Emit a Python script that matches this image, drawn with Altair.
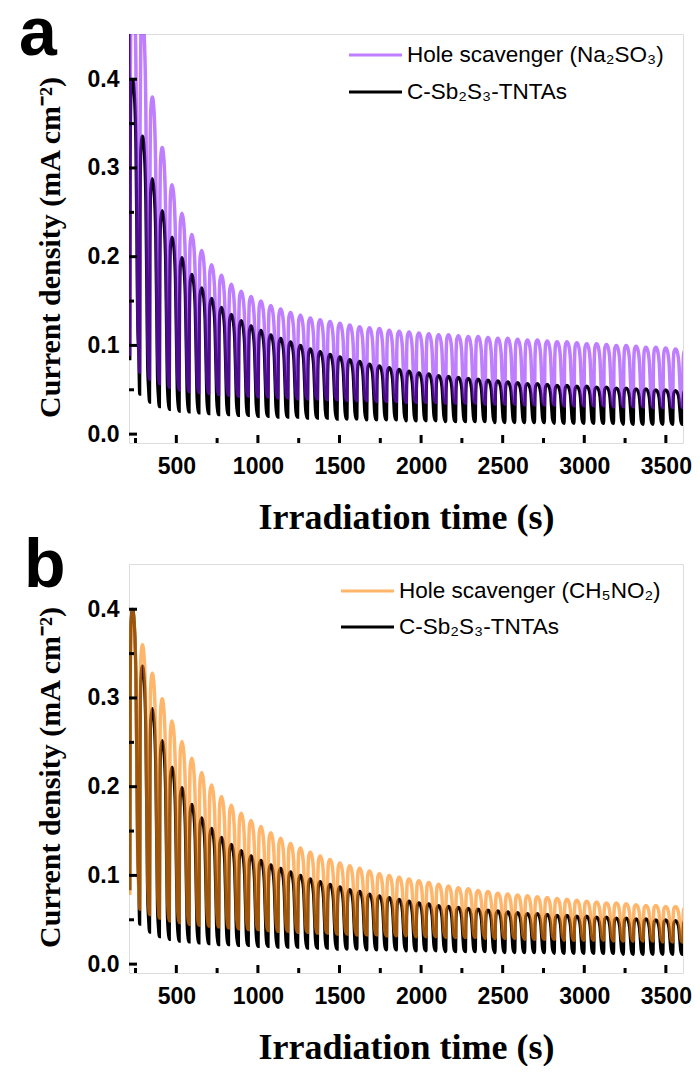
import altair as alt
import pandas as pd

# ---------------- data ----------------
PERIOD = 60.5          # s, light on/off cycle
T0 = 215               # s, start of first cycle
T_START = 209          # s, first recorded point (initial spike)

# C-Sb2S3-TNTAs (black) – per-cycle peak and low current (mA cm-2)
BLACK_PEAKS = [0.400, 0.336, 0.288, 0.252, 0.222, 0.199, 0.180, 0.165, 0.153, 0.143,
               0.135, 0.128, 0.122, 0.117, 0.112, 0.108, 0.104, 0.100, 0.096, 0.093,
               0.090, 0.087, 0.084, 0.082, 0.079, 0.077, 0.075, 0.073, 0.071, 0.069,
               0.068, 0.066, 0.065, 0.064, 0.063, 0.062, 0.061, 0.060, 0.059, 0.058,
               0.057, 0.057, 0.056, 0.055, 0.055, 0.054, 0.054, 0.053, 0.053, 0.052,
               0.052, 0.051, 0.051, 0.050, 0.050, 0.049, 0.049]
BLACK_LOWS = [0.085, 0.045, 0.036, 0.031, 0.028, 0.026, 0.025, 0.024, 0.023, 0.022,
              0.022, 0.021, 0.021, 0.020, 0.020, 0.019, 0.019, 0.019, 0.018, 0.018,
              0.018, 0.017, 0.017, 0.017, 0.016, 0.016, 0.016, 0.016, 0.015, 0.015,
              0.015, 0.015, 0.014, 0.014, 0.014, 0.014, 0.014, 0.013, 0.013, 0.013,
              0.013, 0.013, 0.013, 0.012, 0.012, 0.012, 0.012, 0.012, 0.012, 0.012,
              0.011, 0.011, 0.011, 0.011, 0.011, 0.011, 0.011]
BLACK_START_A = 0.46
BLACK_START_B = 0.20

# Hole scavenger (Na2SO3) – purple
PURPLE_PEAKS = [0.520, 0.470, 0.380, 0.323, 0.281, 0.249, 0.225, 0.207, 0.191, 0.179,
                0.169, 0.161, 0.155, 0.150, 0.145, 0.141, 0.137, 0.134, 0.131, 0.129,
                0.127, 0.125, 0.123, 0.121, 0.120, 0.119, 0.117, 0.116, 0.115, 0.114,
                0.113, 0.112, 0.112, 0.111, 0.110, 0.110, 0.109, 0.108, 0.108, 0.107,
                0.106, 0.106, 0.105, 0.104, 0.104, 0.103, 0.102, 0.102, 0.101, 0.100,
                0.100, 0.099, 0.098, 0.098, 0.097, 0.096, 0.095]
PURPLE_LOWS = [0.090, 0.070, 0.062, 0.057, 0.053, 0.050, 0.048, 0.047, 0.046, 0.045,
               0.044, 0.043, 0.043, 0.042, 0.042, 0.041, 0.041, 0.040, 0.040, 0.040,
               0.039, 0.039, 0.038, 0.038, 0.038, 0.037, 0.037, 0.037, 0.036, 0.036,
               0.036, 0.036, 0.035, 0.035, 0.035, 0.035, 0.034, 0.034, 0.034, 0.034,
               0.033, 0.033, 0.033, 0.033, 0.032, 0.032, 0.032, 0.032, 0.032, 0.031,
               0.031, 0.031, 0.031, 0.030, 0.030, 0.030, 0.030]
PURPLE_START = 0.50

# Hole scavenger (CH5NO2) – orange
ORANGE_PEAKS = [0.398, 0.360, 0.328, 0.299, 0.274, 0.251, 0.232, 0.216, 0.202, 0.189,
                0.179, 0.170, 0.162, 0.155, 0.148, 0.142, 0.136, 0.131, 0.126, 0.122,
                0.118, 0.114, 0.111, 0.108, 0.105, 0.102, 0.100, 0.098, 0.096, 0.094,
                0.092, 0.090, 0.088, 0.086, 0.085, 0.083, 0.082, 0.080, 0.079, 0.078,
                0.077, 0.076, 0.075, 0.074, 0.073, 0.072, 0.071, 0.070, 0.069, 0.069,
                0.068, 0.067, 0.066, 0.066, 0.065, 0.065, 0.064]
ORANGE_LOWS = [0.080, 0.062, 0.056, 0.052, 0.049, 0.047, 0.045, 0.044, 0.043, 0.042,
               0.041, 0.040, 0.039, 0.039, 0.038, 0.037, 0.037, 0.036, 0.036, 0.035,
               0.035, 0.034, 0.034, 0.033, 0.033, 0.033, 0.032, 0.032, 0.032, 0.031,
               0.031, 0.031, 0.030, 0.030, 0.030, 0.030, 0.029, 0.029, 0.029, 0.029,
               0.028, 0.028, 0.028, 0.028, 0.027, 0.027, 0.027, 0.027, 0.027, 0.026,
               0.026, 0.026, 0.026, 0.026, 0.025, 0.025, 0.025]
ORANGE_START = 0.26

# shape of one on/off cycle: phase (fraction of period) and relative level
CYCLE_PHASE = [0.00, 0.04, 0.12, 0.28, 0.45, 0.62, 0.72, 0.80, 0.90]
CYCLE_LEVEL = [0.00, 0.70, 0.95, 1.00, 0.95, 0.75, 0.40, 0.12, 0.02]

X_MAJOR = [500, 1000, 1500, 2000, 2500, 3000, 3500]
X_MINOR = [250, 750, 1250, 1750, 2250, 2750, 3250]
Y_MAJOR = [0.0, 0.1, 0.2, 0.3, 0.4]
Y_MINOR = [0.05, 0.15, 0.25, 0.35]

X_DOMAIN = [210, 3605]
Y_DOMAIN = [-0.01, 0.451]

W, H = 554, 409
PURPLE = "#8a14ff"
ORANGE = "#ff8910"


def trace(start_value, peaks, lows):
    rows = [{"t": T_START, "j": start_value}]
    for k, (p, lo) in enumerate(zip(peaks, lows)):
        start = T0 + k * PERIOD
        for ph, lev in zip(CYCLE_PHASE, CYCLE_LEVEL):
            rows.append({"t": start + ph * PERIOD, "j": lo + (p - lo) * lev})
    return pd.DataFrame(rows)


xs = alt.Scale(domain=X_DOMAIN, nice=False, zero=False)
ys = alt.Scale(domain=Y_DOMAIN, nice=False, zero=False)

x_axis = alt.Axis(values=X_MAJOR, format="d", ticks=False, domain=False, grid=False,
                  labelFont="Liberation Sans", labelFontWeight="bold", labelFontSize=23,
                  labelColor="black", labelPadding=12,
                  title="Irradiation time (s)", titleFont="Liberation Serif",
                  titleFontWeight="bold", titleFontSize=36, titleColor="black",
                  titlePadding=22)
y_axis = alt.Axis(values=Y_MAJOR, format=".1f", ticks=False, domain=False, grid=False,
                  labelFont="Liberation Sans", labelFontWeight="bold", labelFontSize=23,
                  labelColor="black", labelPadding=10,
                  title="Current density (mA cm⁻²)", titleFont="Liberation Serif",
                  titleFontWeight="bold", titleFontSize=30, titleColor="black",
                  titlePadding=22, titleLimit=500, titleY=213)


def panel(black_start, col_start, color_peaks, color_lows, color, opacity, label, letter,
          leg_y, leg_x, letter_x, letter_y):
    black = trace(black_start, BLACK_PEAKS, BLACK_LOWS)
    col = trace(col_start, color_peaks, color_lows)
    base_black = alt.Chart(black).mark_line(color="black", strokeWidth=3.2, clip=True,
                                            interpolate="monotone").encode(
        x=alt.X("t:Q", scale=xs, axis=x_axis),
        y=alt.Y("j:Q", scale=ys, axis=y_axis),
        order="t:Q")
    colored = alt.Chart(col).mark_line(color=color, strokeWidth=3.5, opacity=opacity, clip=True,
                                       interpolate="monotone").encode(
        x=alt.X("t:Q", scale=xs), y=alt.Y("j:Q", scale=ys), order="t:Q")

    xt_major = alt.Chart(pd.DataFrame({"v": X_MAJOR})).mark_rule(color="black", strokeWidth=3).encode(
        x=alt.X("v:Q", scale=xs), y=alt.value(H), y2=alt.value(H - 8))
    xt_minor = alt.Chart(pd.DataFrame({"v": X_MINOR})).mark_rule(color="black", strokeWidth=3).encode(
        x=alt.X("v:Q", scale=xs), y=alt.value(H), y2=alt.value(H - 5))
    yt_major = alt.Chart(pd.DataFrame({"v": Y_MAJOR})).mark_rule(color="black", strokeWidth=3).encode(
        y=alt.Y("v:Q", scale=ys), x=alt.value(0), x2=alt.value(8))
    yt_minor = alt.Chart(pd.DataFrame({"v": Y_MINOR})).mark_rule(color="black", strokeWidth=3).encode(
        y=alt.Y("v:Q", scale=ys), x=alt.value(0), x2=alt.value(5))

    leg_line1 = alt.Chart(pd.DataFrame({"s": [label]})).mark_rule(
        color=color, opacity=opacity, strokeWidth=3).encode(
        x=alt.value(leg_x), x2=alt.value(leg_x + 53), y=alt.value(leg_y[0]))
    leg_line2 = alt.Chart(pd.DataFrame({"s": ["C-Sb₂S₃-TNTAs"]})).mark_rule(
        color="black", strokeWidth=2.8).encode(
        x=alt.value(leg_x), x2=alt.value(leg_x + 53), y=alt.value(leg_y[1]))
    leg_text1 = alt.Chart(pd.DataFrame({"s": [label]})).mark_text(
        align="left", baseline="middle", font="Liberation Sans", fontSize=22.5, color="black").encode(
        text="s:N", x=alt.value(leg_x + 58), y=alt.value(leg_y[0]))
    leg_text2 = alt.Chart(pd.DataFrame({"s": ["C-Sb₂S₃-TNTAs"]})).mark_text(
        align="left", baseline="middle", font="Liberation Sans", fontSize=22.5, color="black").encode(
        text="s:N", x=alt.value(leg_x + 58), y=alt.value(leg_y[1]))
    letter_mark = alt.Chart(pd.DataFrame({"s": [letter]})).mark_text(
        align="left", baseline="alphabetic", font="Liberation Sans", fontWeight="bold",
        fontSize=68, color="black").encode(
        text="s:N", x=alt.value(letter_x), y=alt.value(letter_y))

    return alt.layer(base_black, colored, xt_major, xt_minor, yt_major, yt_minor,
                     leg_line1, leg_line2, leg_text1, leg_text2, letter_mark).properties(
        width=W, height=H)


pa = panel(BLACK_START_A, PURPLE_START, PURPLE_PEAKS, PURPLE_LOWS, PURPLE, 0.55,
           "Hole scavenger (Na₂SO₃)", "a", (21, 58), 220, -110, 21)
pb = panel(BLACK_START_B, ORANGE_START, ORANGE_PEAKS, ORANGE_LOWS, ORANGE, 0.62,
           "Hole scavenger (CH₅NO₂)", "b", (27, 63), 212, -105, 23)

chart = alt.vconcat(pa, pb, spacing=-4).properties(
    padding={"left": 18, "top": 0, "right": 5, "bottom": 0}
).configure_view(stroke="black", strokeWidth=3).configure(background="white")

chart.save("out.html", embed_options={"renderer": "svg", "actions": False})
